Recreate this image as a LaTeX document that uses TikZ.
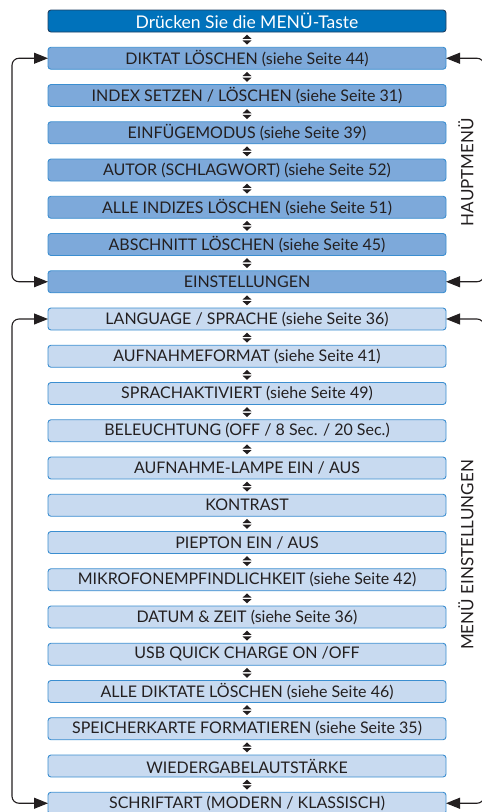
\documentclass[tikz,border=0pt]{standalone}
\usepackage{fontspec}
\setmainfont{Lato}
\usetikzlibrary{arrows.meta,positioning,calc}
\definecolor{topblue}{HTML}{0072BB}
\definecolor{topedge}{HTML}{1D3F63}
\definecolor{mainblue}{HTML}{7DA9DA}
\definecolor{setblue}{HTML}{C8DAF0}
\definecolor{edgeblue}{HTML}{3B8ED0}
\definecolor{ink}{HTML}{231F20}

\tikzset{
  menubox/.style={draw=edgeblue, line width=0.9pt, rounded corners=3pt,
    minimum width=398pt, minimum height=22pt, inner sep=0pt, outer sep=0pt,
    text=ink, font=\fontsize{16}{18}\selectfont},
  topbox/.style={menubox, draw=topedge, fill=topblue, text=white,
    font=\fontsize{17.5}{19}\selectfont},
  mainbox/.style={menubox, fill=mainblue},
  setbox/.style={menubox, fill=setblue},
  sidelabel/.style={rotate=90, text=ink, font=\fontsize{17}{19}\selectfont},
  loopline/.style={<->, >={Triangle[length=14pt,width=11pt]}, draw=ink,
    line width=1.1pt, rounded corners=7pt},
  updown/.pic={
    \fill[ink] (-4.5,0.7) -- (4.5,0.7) -- (0,5) -- cycle;
    \fill[ink] (-4.5,-0.7) -- (4.5,-0.7) -- (0,-5) -- cycle;
  }
}

\begin{document}
\begin{tikzpicture}[x=1pt, y=1pt]
\useasboundingbox (0,0) rectangle (482,-812);

\node[topbox] (press) at (247,-21) {Drücken Sie die MENÜ-Taste};
% Hauptmenü
\node[mainbox, below=15.25pt of press] (m1) {DIKTAT LÖSCHEN (siehe Seite 44)};
\node[mainbox, below=15.25pt of m1] (m2) {INDEX SETZEN / LÖSCHEN (siehe Seite 31)};
\node[mainbox, below=15.25pt of m2] (m3) {EINFÜGEMODUS (siehe Seite 39)};
\node[mainbox, below=15.25pt of m3] (m4) {AUTOR (SCHLAGWORT) (siehe Seite 52)};
\node[mainbox, below=15.25pt of m4] (m5) {ALLE INDIZES LÖSCHEN (siehe Seite 51)};
\node[mainbox, below=15.25pt of m5] (m6) {ABSCHNITT LÖSCHEN (siehe Seite 45)};
\node[mainbox, below=15.25pt of m6] (m7) {EINSTELLUNGEN};
% Menü Einstellungen
\node[setbox, below=15.25pt of m7] (s1) {LANGUAGE / SPRACHE (siehe Seite 36)};
\node[setbox, below=15.25pt of s1] (s2) {AUFNAHMEFORMAT (siehe Seite 41)};
\node[setbox, below=15.25pt of s2] (s3) {SPRACHAKTIVIERT (siehe Seite 49)};
\node[setbox, below=15.25pt of s3] (s4) {BELEUCHTUNG (OFF / 8 Sec. / 20 Sec.)};
\node[setbox, below=15.25pt of s4] (s5) {AUFNAHME-LAMPE EIN / AUS};
\node[setbox, below=15.25pt of s5] (s6) {KONTRAST};
\node[setbox, below=15.25pt of s6] (s7) {PIEPTON EIN / AUS};
\node[setbox, below=15.25pt of s7] (s8) {MIKROFONEMPFINDLICHKEIT (siehe Seite 42)};
\node[setbox, below=15.25pt of s8] (s9) {DATUM \& ZEIT (siehe Seite 36)};
\node[setbox, below=15.25pt of s9] (s10) {USB QUICK CHARGE ON /OFF};
\node[setbox, below=15.25pt of s10] (s11) {ALLE DIKTATE LÖSCHEN (siehe Seite 46)};
\node[setbox, below=15.25pt of s11] (s12) {SPEICHERKARTE FORMATIEREN (siehe Seite 35)};
\node[setbox, below=15.25pt of s12] (s13) {WIEDERGABELAUTSTÄRKE};
\node[setbox, below=15.25pt of s13] (s14) {SCHRIFTART (MODERN / KLASSISCH)};

% up/down marks between the boxes
\foreach \u/\l in {press/m1, m1/m2, m2/m3, m3/m4, m4/m5, m5/m6, m6/m7, m7/s1,
    s1/s2, s2/s3, s3/s4, s4/s5, s5/s6, s6/s7, s7/s8, s8/s9, s9/s10, s10/s11,
    s11/s12, s12/s13, s13/s14}
  \pic at ($(\u.south)!.5!(\l.north)$) {updown};

% loops
\draw[loopline] (m1.west) -- ++(-36,0) |- (m7.west);
\draw[loopline] (m1.east) -- ++(38,0) |- (m7.east);
\draw[loopline] (s1.west) -- ++(-36,0) |- (s14.west);
\draw[loopline] (s1.east) -- ++(38,0) |- (s14.east);

\node[sidelabel] (hauptlabel) at (466,-172) {HAUPTMENÜ};
\node[sidelabel] (einstlabel) at (466,-555) {MENÜ EINSTELLUNGEN};
\end{tikzpicture}
\end{document}
